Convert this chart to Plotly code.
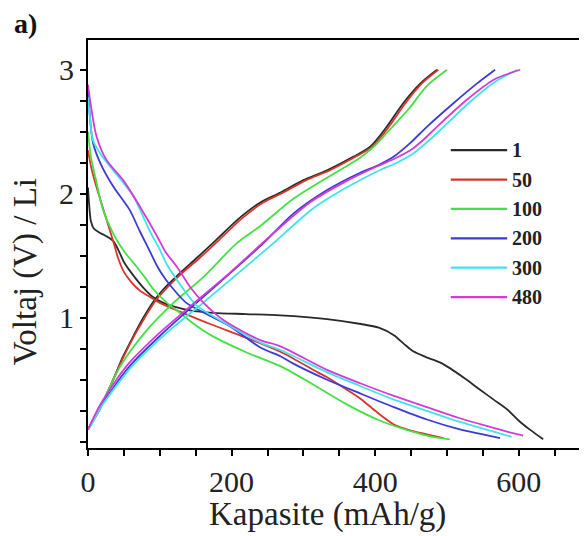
import plotly.graph_objects as go

cycles = ["1", "50", "100", "200", "300", "480"]
colors = ["#2a2a2a", "#d8352e", "#44e044", "#3b3bd6", "#3ee4ea", "#d53ad8"]

# discharge curves (capacity mAh/g, voltage V)
dis_x = {
    "1":   [0, 1.5, 4, 8, 15, 25, 35, 42, 50, 62, 76, 90, 105, 120, 142, 174, 220, 268, 333, 380, 405, 426, 440, 453, 470, 490, 505, 525, 546, 565, 584, 600, 615, 634],
    "50":  [0, 5, 12, 20, 28, 35, 42, 50, 60, 72, 86, 100, 128, 170, 220, 270, 320, 333, 355, 379, 400, 426, 450, 472, 495],
    "100": [0, 4, 10, 21, 35, 45, 55, 68, 80, 91, 110, 128, 150, 174, 221, 268, 314, 361, 407, 453, 480, 504],
    "200": [0, 3, 7, 17, 35, 58, 72, 85, 96, 108, 119, 137, 165, 198, 240, 268, 286, 333, 379, 426, 472, 518, 550, 574],
    "300": [0, 3, 7, 20, 35, 63, 86, 100, 110, 122, 133, 151, 184, 240, 268, 333, 379, 426, 472, 518, 560, 590],
    "480": [0, 3, 12, 26, 49, 72, 96, 108, 124, 142, 161, 189, 240, 268, 333, 380, 426, 472, 518, 560, 585, 606],
}
dis_y = {
    "1":   [2.05, 1.92, 1.78, 1.72, 1.69, 1.66, 1.62, 1.55, 1.45, 1.35, 1.25, 1.17, 1.12, 1.09, 1.06, 1.04, 1.03, 1.02, 0.99, 0.95, 0.92, 0.86, 0.79, 0.73, 0.685, 0.64, 0.59, 0.51, 0.42, 0.34, 0.26, 0.17, 0.10, 0.02],
    "50":  [2.35, 2.2, 2.05, 1.9, 1.75, 1.62, 1.48, 1.37, 1.29, 1.22, 1.17, 1.12, 1.05, 0.95, 0.84, 0.72, 0.56, 0.52, 0.44, 0.35, 0.25, 0.14, 0.09, 0.06, 0.03],
    "100": [2.5, 2.3, 2.14, 1.87, 1.68, 1.58, 1.5, 1.41, 1.32, 1.23, 1.12, 1.04, 0.94, 0.85, 0.72, 0.61, 0.46, 0.30, 0.17, 0.08, 0.04, 0.02],
    "200": [2.85, 2.6, 2.41, 2.25, 2.06, 1.87, 1.70, 1.55, 1.42, 1.31, 1.23, 1.12, 1.03, 0.93, 0.76, 0.69, 0.63, 0.5, 0.39, 0.28, 0.18, 0.10, 0.06, 0.03],
    "300": [2.78, 2.6, 2.43, 2.3, 2.19, 1.98, 1.70, 1.55, 1.43, 1.32, 1.23, 1.10, 0.98, 0.80, 0.74, 0.56, 0.45, 0.34, 0.25, 0.16, 0.09, 0.04],
    "480": [2.88, 2.75, 2.46, 2.27, 2.11, 1.9, 1.66, 1.53, 1.41, 1.25, 1.12, 0.98, 0.82, 0.77, 0.58, 0.47, 0.37, 0.28, 0.19, 0.12, 0.08, 0.05],
}
# charge curves
chg_x = {
    "1":   [0, 5, 17, 35, 49, 63, 77, 91, 105, 128, 151, 179, 210, 240, 268, 300, 333, 370, 393, 416, 439, 463, 486],
    "50":  [0, 5, 17, 35, 50, 64, 79, 93, 108, 131, 155, 183, 214, 244, 272, 304, 337, 373, 396, 419, 442, 465, 488],
    "100": [0, 5, 17, 45, 82, 119, 161, 207, 240, 286, 333, 379, 398, 416, 432, 449, 472, 500],
    "200": [0, 5, 17, 58, 105, 151, 198, 244, 286, 333, 379, 404, 426, 449, 472, 509, 542, 567],
    "300": [0, 5, 17, 60, 108, 156, 203, 258, 313, 360, 406, 430, 452, 471, 490, 530, 566, 598],
    "480": [0, 5, 17, 55, 100, 148, 195, 254, 309, 356, 402, 426, 449, 468, 486, 528, 565, 602],
}
chg_y = {
    "1":   [0.1, 0.15, 0.27, 0.5, 0.69, 0.85, 1.0, 1.13, 1.23, 1.36, 1.48, 1.63, 1.8, 1.93, 2.01, 2.11, 2.19, 2.30, 2.38, 2.54, 2.73, 2.89, 3.0],
    "50":  [0.1, 0.15, 0.27, 0.5, 0.69, 0.85, 1.0, 1.13, 1.23, 1.36, 1.48, 1.63, 1.8, 1.93, 2.01, 2.11, 2.19, 2.30, 2.38, 2.54, 2.73, 2.89, 3.0],
    "100": [0.1, 0.15, 0.28, 0.61, 0.9, 1.12, 1.33, 1.6, 1.74, 1.96, 2.13, 2.29, 2.38, 2.49, 2.59, 2.7, 2.87, 3.0],
    "200": [0.1, 0.15, 0.28, 0.61, 0.88, 1.12, 1.36, 1.6, 1.84, 2.03, 2.17, 2.23, 2.3, 2.41, 2.54, 2.73, 2.89, 3.0],
    "300": [0.1, 0.14, 0.27, 0.6, 0.87, 1.1, 1.33, 1.6, 1.88, 2.05, 2.19, 2.25, 2.32, 2.41, 2.51, 2.73, 2.9, 3.0],
    "480": [0.1, 0.16, 0.3, 0.62, 0.88, 1.12, 1.35, 1.66, 1.93, 2.09, 2.22, 2.28, 2.35, 2.44, 2.54, 2.76, 2.92, 3.0],
}

x_tick_labels = ["0", "200", "400", "600"]
y_tick_labels = ["1", "2", "3"]

SERIF = "Liberation Serif, Times New Roman, serif"

fig = go.Figure()
for c, col in zip(cycles, colors):
    fig.add_trace(go.Scatter(x=dis_x[c], y=dis_y[c], mode="lines", name=c,
                             line=dict(color=col, width=1.8, shape="spline", smoothing=0.8),
                             legendgroup=c, showlegend=False))
    fig.add_trace(go.Scatter(x=chg_x[c], y=chg_y[c], mode="lines", name=c,
                             line=dict(color=col, width=1.8, shape="spline", smoothing=0.8),
                             legendgroup=c, showlegend=False))

# manual legend (long line samples like the original)
leg_y0 = 0.730
leg_dy = 0.072
for i, (c, col) in enumerate(zip(cycles, colors)):
    yy = leg_y0 - i * leg_dy
    fig.add_shape(type="line", xref="paper", yref="paper", x0=0.727, x1=0.840, y0=yy, y1=yy,
                  line=dict(color=col, width=2.2))
    fig.add_annotation(xref="paper", yref="paper", x=0.846, y=yy, text="<b>%s</b>" % c,
                       showarrow=False, xanchor="left", yanchor="middle",
                       font=dict(family=SERIF, size=20, color="#222"))

axis_common = dict(showline=True, linewidth=2, linecolor="black", showgrid=False, zeroline=False,
                   ticks="outside", ticklen=6, tickwidth=1.5, tickcolor="black",
                   tickfont=dict(family=SERIF, size=30, color="#222"))

fig.update_xaxes(range=[0, 695], tickmode="array", tickvals=[int(v) for v in x_tick_labels],
                 ticktext=x_tick_labels, mirror=True,
                 minor=dict(tickmode="linear", tick0=0, dtick=50, ticks="outside", ticklen=6,
                            tickwidth=1.5, tickcolor="black"),
                 **axis_common)
fig.update_yaxes(range=[-0.05, 3.24], tickmode="array", tickvals=[int(v) for v in y_tick_labels],
                 ticktext=y_tick_labels,
                 minor=dict(tickmode="linear", tick0=0, dtick=0.25, ticks="outside", ticklen=6,
                            tickwidth=1.5, tickcolor="black"),
                 **axis_common)

fig.add_annotation(xref="paper", yref="paper", x=0.48, y=-0.162, text="Kapasite (mAh/g)",
                   showarrow=False, xanchor="center", yanchor="middle",
                   font=dict(family=SERIF, size=33, color="#222"))
fig.add_annotation(xref="paper", yref="paper", x=-0.126, y=0.431, text="Voltaj (V) / Li",
                   showarrow=False, xanchor="center", yanchor="middle", textangle=-90,
                   font=dict(family=SERIF, size=33, color="#222"))
fig.add_annotation(xref="paper", yref="paper", x=-0.152, y=1.040, text="<b>a)</b>",
                   showarrow=False, xanchor="left", yanchor="middle",
                   font=dict(family=SERIF, size=28, color="#111"))

# the page body adds an 8 px margin, so the figure is sized/offset to compensate
fig.update_layout(width=579, height=528, margin=dict(l=80, r=0, t=32, b=88),
                  plot_bgcolor="white", paper_bgcolor="white", showlegend=False)

fig.write_html("out.html")
